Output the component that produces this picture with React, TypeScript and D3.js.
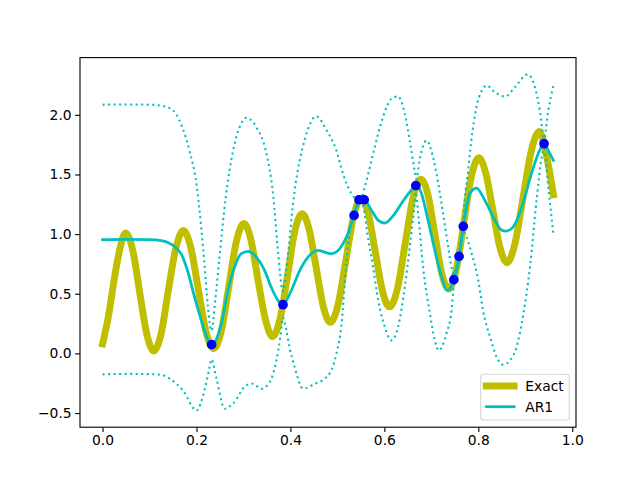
import { useEffect, useRef } from "react";
import * as d3 from "d3";

type Pt = [number, number];

// high fidelity "exact" curve
const exactPts: Pt[] = [
  [0, 0.08], [0.012, 0.3], [0.024, 0.6], [0.036, 0.86], [0.049, 1.01],
  [0.064, 0.87], [0.079, 0.515], [0.094, 0.165], [0.109, 0.02],
  [0.125, 0.17], [0.14, 0.525], [0.156, 0.88], [0.172, 1.03],
  [0.188, 0.885], [0.204, 0.535], [0.22, 0.185], [0.237, 0.04],
  [0.253, 0.19], [0.269, 0.565], [0.285, 0.94], [0.301, 1.09],
  [0.316, 0.95], [0.331, 0.615], [0.347, 0.28], [0.362, 0.14],
  [0.378, 0.29], [0.394, 0.655], [0.409, 1.02], [0.425, 1.17],
  [0.44, 1.037], [0.455, 0.715], [0.47, 0.393], [0.485, 0.26],
  [0.5015, 0.41], [0.518, 0.78], [0.5345, 1.15], [0.551, 1.3],
  [0.566, 1.167], [0.581, 0.845], [0.596, 0.523], [0.611, 0.39],
  [0.628, 0.546], [0.6445, 0.925], [0.661, 1.304], [0.678, 1.46],
  [0.693, 1.326], [0.7075, 1.0], [0.722, 0.674], [0.737, 0.54],
  [0.753, 0.7], [0.769, 1.09], [0.785, 1.48], [0.801, 1.64],
  [0.816, 1.51], [0.831, 1.2], [0.846, 0.89], [0.861, 0.76],
  [0.878, 0.92], [0.8955, 1.31], [0.913, 1.7], [0.93, 1.86],
  [0.945, 1.66], [0.96, 1.33],
];

// AR1 predictive mean
const meanPts: Pt[] = [
  [0, 0.953], [0.05, 0.955], [0.1, 0.953], [0.125, 0.945], [0.139, 0.93],
  [0.155, 0.89], [0.168, 0.83], [0.182, 0.68], [0.196, 0.47], [0.207, 0.32],
  [0.217, 0.19], [0.232, 0.073], [0.253, 0.249], [0.267, 0.528], [0.281, 0.723],
  [0.2955, 0.836], [0.31, 0.855], [0.3275, 0.807], [0.345, 0.696], [0.359, 0.556],
  [0.3735, 0.444], [0.384, 0.408], [0.402, 0.528], [0.42, 0.696], [0.4375, 0.807],
  [0.459, 0.863], [0.487, 0.835], [0.501, 0.86], [0.512, 0.92], [0.523, 1.01],
  [0.5355, 1.157], [0.546, 1.288], [0.557, 1.288], [0.5725, 1.2], [0.587, 1.115],
  [0.601, 1.092], [0.618, 1.15], [0.636, 1.255], [0.654, 1.352], [0.667, 1.405],
  [0.672, 1.4], [0.679, 1.34], [0.693, 1.115], [0.7075, 0.863], [0.722, 0.64],
  [0.734, 0.528], [0.748, 0.618], [0.759, 0.813], [0.768, 1.065], [0.782, 1.34],
  [0.796, 1.386], [0.814, 1.282], [0.832, 1.143], [0.846, 1.045], [0.857, 1.025],
  [0.871, 1.045], [0.885, 1.143], [0.899, 1.31], [0.913, 1.506], [0.9275, 1.674],
  [0.94, 1.758], [0.949, 1.7], [0.96, 1.618],
];

// upper / lower confidence bounds
const upperPts: Pt[] = [
  [0, 2.085], [0.05, 2.087], [0.1, 2.085], [0.128, 2.075], [0.15, 2.037],
  [0.163, 1.96], [0.171, 1.883], [0.185, 1.7], [0.2, 1.42], [0.21, 1.06],
  [0.217, 0.75], [0.224, 0.4], [0.232, 0.19], [0.24, 0.45], [0.249, 0.807],
  [0.262, 1.3], [0.278, 1.7], [0.292, 1.9], [0.306, 1.975], [0.3275, 1.897],
  [0.349, 1.674], [0.363, 1.339], [0.374, 0.836], [0.384, 0.52], [0.391, 0.7],
  [0.409, 1.366], [0.43, 1.785], [0.455, 1.987], [0.477, 1.87], [0.498, 1.7],
  [0.512, 1.506], [0.53, 1.34], [0.54, 1.3], [0.551, 1.31], [0.56, 1.42],
  [0.576, 1.674], [0.597, 1.98], [0.615, 2.135], [0.629, 2.154], [0.6435, 2.01],
  [0.654, 1.785], [0.665, 1.52], [0.668, 1.46], [0.675, 1.62], [0.69, 1.785],
  [0.7, 1.7], [0.711, 1.506], [0.725, 1.171], [0.736, 0.89], [0.743, 0.72],
  [0.748, 0.66], [0.754, 0.74], [0.759, 0.86], [0.764, 0.98], [0.768, 1.11],
  [0.771, 1.28], [0.778, 1.52], [0.785, 1.78], [0.796, 2.065], [0.807, 2.2],
  [0.818, 2.246], [0.835, 2.19], [0.857, 2.154], [0.878, 2.232], [0.905, 2.339],
  [0.9205, 2.232], [0.931, 2.037], [0.94, 1.8], [0.949, 2.037], [0.96, 2.246],
];

const lowerPts: Pt[] = [
  [0, -0.176], [0.05, -0.172], [0.1, -0.174], [0.125, -0.18], [0.143, -0.212],
  [0.171, -0.31], [0.2, -0.478], [0.217, -0.31], [0.228, -0.115], [0.232, -0.05],
  [0.242, -0.2], [0.26, -0.464], [0.278, -0.42], [0.306, -0.268], [0.32, -0.254],
  [0.338, -0.296], [0.356, -0.24], [0.37, -0.06], [0.379, 0.15], [0.384, 0.3],
  [0.391, 0.2], [0.398, 0.053], [0.409, -0.115], [0.427, -0.296], [0.452, -0.254],
  [0.473, -0.212], [0.487, -0.142], [0.498, 0.0], [0.509, 0.25], [0.519, 0.75],
  [0.53, 1.1], [0.5355, 1.13], [0.546, 1.26], [0.552, 1.27], [0.565, 0.975],
  [0.576, 0.723], [0.587, 0.444], [0.601, 0.22], [0.615, 0.109], [0.629, 0.22],
  [0.6435, 0.556], [0.654, 0.89], [0.663, 1.2], [0.667, 1.35], [0.672, 1.171],
  [0.6825, 0.723], [0.697, 0.333], [0.7075, 0.109], [0.716, 0.025], [0.732, 0.165],
  [0.743, 0.36], [0.748, 0.58], [0.759, 0.77], [0.768, 1.02], [0.775, 0.975],
  [0.786, 0.836], [0.8, 0.612], [0.81, 0.36], [0.825, 0.137], [0.839, -0.03],
  [0.853, -0.095], [0.867, -0.06], [0.8815, 0.053], [0.896, 0.333], [0.91, 0.723],
  [0.924, 1.282], [0.935, 1.645], [0.94, 1.72], [0.949, 1.394], [0.96, 0.99],
];

// high fidelity training points
const trainPts: Pt[] = [
  [0.2323, 0.073], [0.3842, 0.408], [0.5355, 1.157], [0.546, 1.288], [0.557, 1.288],
  [0.667, 1.406], [0.748, 0.618], [0.759, 0.813], [0.768, 1.065], [0.94, 1.758],
];

const xTicks = [0, 0.2, 0.4, 0.6, 0.8, 1.0];
const yTicks = [-0.5, 0, 0.5, 1.0, 1.5, 2.0];
const legendItems = [
  { label: "Exact", color: "#bfbf00", width: 6.94 },
  { label: "AR1", color: "#00bfbf", width: 2.78 },
];

const W = 640;
const H = 480;
const FONT = "DejaVu Sans, sans-serif";

export default function App() {
  const ref = useRef<SVGSVGElement>(null);

  useEffect(() => {
    if (!ref.current) return;
    const svg = d3.select(ref.current);
    svg.selectAll("*").remove();

    const left = 80, right = 576, top = 57.6, bottom = 427.2;

    const allX = exactPts.map((d) => d[0]);
    const [x0, x1] = d3.extent(allX) as [number, number];
    const xm = (x1 - x0) * 0.05;
    const x = d3.scaleLinear().domain([x0 - xm, x1 + xm]).range([left, right]);

    const allY = [...exactPts, ...meanPts, ...upperPts, ...lowerPts].map((d) => d[1]);
    const [y0, y1] = d3.extent(allY) as [number, number];
    const ym = (y1 - y0) * 0.05;
    const y = d3.scaleLinear().domain([y0 - ym, y1 + ym]).range([bottom, top]);

    svg.append("rect").attr("width", W).attr("height", H).attr("fill", "#fff");

    const line = d3
      .line<Pt>()
      .x((d) => x(d[0]))
      .y((d) => y(d[1]))
      .curve(d3.curveMonotoneX);

    svg.append("clipPath").attr("id", "plot-clip")
      .append("rect").attr("x", left).attr("y", top)
      .attr("width", right - left).attr("height", bottom - top);

    const plot = svg.append("g").attr("clip-path", "url(#plot-clip)");

    plot.append("path").attr("d", line(exactPts))
      .attr("fill", "none").attr("stroke", "#bfbf00").attr("stroke-width", 6.94)
      .attr("stroke-linecap", "square").attr("stroke-linejoin", "round");

    plot.append("path").attr("d", line(meanPts))
      .attr("fill", "none").attr("stroke", "#00bfbf").attr("stroke-width", 2.78)
      .attr("stroke-linecap", "square").attr("stroke-linejoin", "round");

    [upperPts, lowerPts].forEach((pts) => {
      plot.append("path").attr("d", line(pts))
        .attr("fill", "none").attr("stroke", "#00bfbf").attr("stroke-width", 2.08)
        .attr("stroke-dasharray", "2.08 3.44").attr("stroke-linecap", "butt");
    });

    plot.selectAll(".train").data(trainPts).join("circle")
      .attr("class", "train")
      .attr("cx", (d) => x(d[0])).attr("cy", (d) => y(d[1]))
      .attr("r", 4.17).attr("fill", "#0000ff")
      .attr("stroke", "#0000ff").attr("stroke-width", 1.39);

    // axes
    const fmt = d3.format(".1f");
    const xAxis = svg.append("g").attr("transform", `translate(0,${bottom})`)
      .call(d3.axisBottom(x).tickValues(xTicks).tickSize(4.86).tickPadding(3.5)
        .tickFormat((d) => fmt(d as number).replace("-", "\u2212")));
    const yAxis = svg.append("g").attr("transform", `translate(${left},0)`)
      .call(d3.axisLeft(y).tickValues(yTicks).tickSize(4.86).tickPadding(3.5)
        .tickFormat((d) => fmt(d as number).replace("-", "\u2212")));
    [xAxis, yAxis].forEach((g) => {
      g.select(".domain").remove();
      g.selectAll(".tick line").attr("stroke", "#000").attr("stroke-width", 1.11);
      g.selectAll(".tick text").attr("fill", "#000").attr("font-size", "13.89px")
        .attr("font-family", FONT);
    });

    svg.append("rect").attr("x", left).attr("y", top)
      .attr("width", right - left).attr("height", bottom - top)
      .attr("fill", "none").attr("stroke", "#000").attr("stroke-width", 1.11);

    // legend
    const lg = svg.append("g");
    lg.append("rect").attr("x", 480.7).attr("y", 374.3).attr("width", 88.6).attr("height", 45.7)
      .attr("rx", 2.8).attr("fill", "#fff").attr("fill-opacity", 0.8)
      .attr("stroke", "#cccccc").attr("stroke-opacity", 0.8).attr("stroke-width", 1.11);
    legendItems.forEach((it, i) => {
      const cy = 386 + i * 20.7;
      lg.append("line").attr("x1", 486.3).attr("x2", 514.1).attr("y1", cy).attr("y2", cy)
        .attr("stroke", it.color).attr("stroke-width", it.width).attr("stroke-linecap", "square");
      lg.append("text").attr("x", 525.2).attr("y", cy).attr("dy", "0.35em")
        .attr("font-size", "13.89px").attr("font-family", FONT).attr("fill", "#000")
        .text(it.label);
    });
  }, []);

  return (
    <svg
      ref={ref}
      width={W}
      height={H}
      style={{ position: "absolute", left: 0, top: 0, display: "block" }}
    />
  );
}
